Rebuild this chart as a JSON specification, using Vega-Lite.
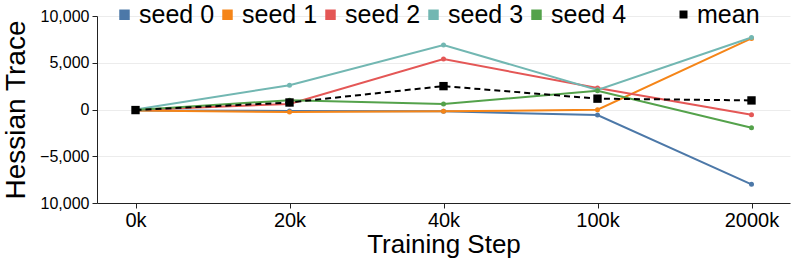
{
  "$schema": "https://vega.github.io/schema/vega-lite/v6.json",
  "width": 693,
  "height": 187,
  "autosize": "none",
  "padding": {"left": 97, "top": 16, "right": 7, "bottom": 58},
  "config": {
    "font": "Liberation Sans",
    "view": {"stroke": null},
    "axis": {"labelColor": "#000", "titleColor": "#000", "domainColor": "#222", "tickColor": "#222", "titleFontWeight": "normal"}
  },
  "datasets": {
    "seeds": [
      {"step": "0k", "series": "seed 0", "value": -100},
      {"step": "20k", "series": "seed 0", "value": -150},
      {"step": "40k", "series": "seed 0", "value": -200},
      {"step": "100k", "series": "seed 0", "value": -600},
      {"step": "2000k", "series": "seed 0", "value": -8000},
      {"step": "0k", "series": "seed 1", "value": -100},
      {"step": "20k", "series": "seed 1", "value": -280},
      {"step": "40k", "series": "seed 1", "value": -200},
      {"step": "100k", "series": "seed 1", "value": -30},
      {"step": "2000k", "series": "seed 1", "value": 7600},
      {"step": "0k", "series": "seed 2", "value": -50},
      {"step": "20k", "series": "seed 2", "value": 600},
      {"step": "40k", "series": "seed 2", "value": 5400},
      {"step": "100k", "series": "seed 2", "value": 2300},
      {"step": "2000k", "series": "seed 2", "value": -550},
      {"step": "0k", "series": "seed 3", "value": 0},
      {"step": "20k", "series": "seed 3", "value": 2600},
      {"step": "40k", "series": "seed 3", "value": 6900},
      {"step": "100k", "series": "seed 3", "value": 2100},
      {"step": "2000k", "series": "seed 3", "value": 7700},
      {"step": "0k", "series": "seed 4", "value": -50},
      {"step": "20k", "series": "seed 4", "value": 1000},
      {"step": "40k", "series": "seed 4", "value": 600},
      {"step": "100k", "series": "seed 4", "value": 2000},
      {"step": "2000k", "series": "seed 4", "value": -1950}
    ],
    "mean": [
      {"step": "0k", "series": "mean", "value": -60},
      {"step": "20k", "series": "mean", "value": 750},
      {"step": "40k", "series": "mean", "value": 2500},
      {"step": "100k", "series": "mean", "value": 1160},
      {"step": "2000k", "series": "mean", "value": 970}
    ]
  },
  "encoding": {
    "x": {
      "field": "step", "type": "ordinal", "sort": ["0k", "20k", "40k", "100k", "2000k"],
      "scale": {"type": "point", "padding": 0.25},
      "axis": {"title": "Training Step", "labelAngle": 0, "labelFontSize": 20, "titleFontSize": 26, "tickSize": 5, "labelPadding": 2, "titlePadding": 1, "grid": false}
    },
    "y": {
      "field": "value", "type": "quantitative",
      "scale": {"domain": [-10000, 10000], "nice": false},
      "axis": {"title": "Hessian Trace", "values": [-10000, -5000, 0, 5000, 10000], "labelExpr": "datum.value == -10000 ? '10,000' : format(datum.value, ',')", "labelFontSize": 16, "titleFontSize": 28, "tickSize": 5, "labelPadding": 3, "titlePadding": 9, "gridColor": "#ececec", "domainColor": "#222"}
    }
  },
  "layer": [
    {
      "data": {"name": "seeds"},
      "mark": {"type": "line", "strokeWidth": 2},
      "encoding": {
        "color": {"field": "series", "type": "nominal",
          "scale": {"domain": ["seed 0", "seed 1", "seed 2", "seed 3", "seed 4"], "range": ["#4c78a8", "#f58518", "#e45756", "#72b7b2", "#54a24b"]},
          "legend": {"title": null, "orient": "none", "legendX": 15, "legendY": -14, "direction": "horizontal", "labelFontSize": 25, "symbolType": "square", "symbolSize": 110, "symbolStrokeWidth": 0, "labelOffset": 2, "columnPadding": -3.5, "labelColor": "#000", "encode": {"symbols": {"update": {"fill": {"scale": "color", "field": "value"}, "fillOpacity": {"value": 1}}}}}
        }
      }
    },
    {
      "data": {"name": "seeds"},
      "mark": {"type": "point", "filled": true, "size": 25, "opacity": 1},
      "encoding": {
        "color": {"field": "series", "type": "nominal"}
      }
    },
    {
      "data": {"name": "mean"},
      "mark": {"type": "line", "strokeWidth": 2, "strokeDash": [6, 4], "color": "#000"},
      "encoding": {}
    },
    {
      "data": {"name": "mean"},
      "mark": {"type": "point", "filled": true, "size": 70, "opacity": 1, "color": "#000", "shape": "square"},
      "encoding": {
        "shape": {"field": "series", "type": "nominal",
          "scale": {"domain": ["mean"], "range": ["square"]},
          "legend": {"title": null, "orient": "none", "legendX": 574, "legendY": -14, "labelFontSize": 25, "symbolType": "M-1.2,-0.12H-0.5V0.12H-1.2Z M-0.5,-0.5H0.5V0.5H-0.5Z", "symbolSize": 64, "symbolFillColor": "#000", "symbolStrokeColor": "#000", "symbolStrokeWidth": 0, "labelOffset": 1, "labelColor": "#000"}
        }
      }
    }
  ],
  "resolve": {"legend": {"color": "independent", "shape": "independent"}}
}
